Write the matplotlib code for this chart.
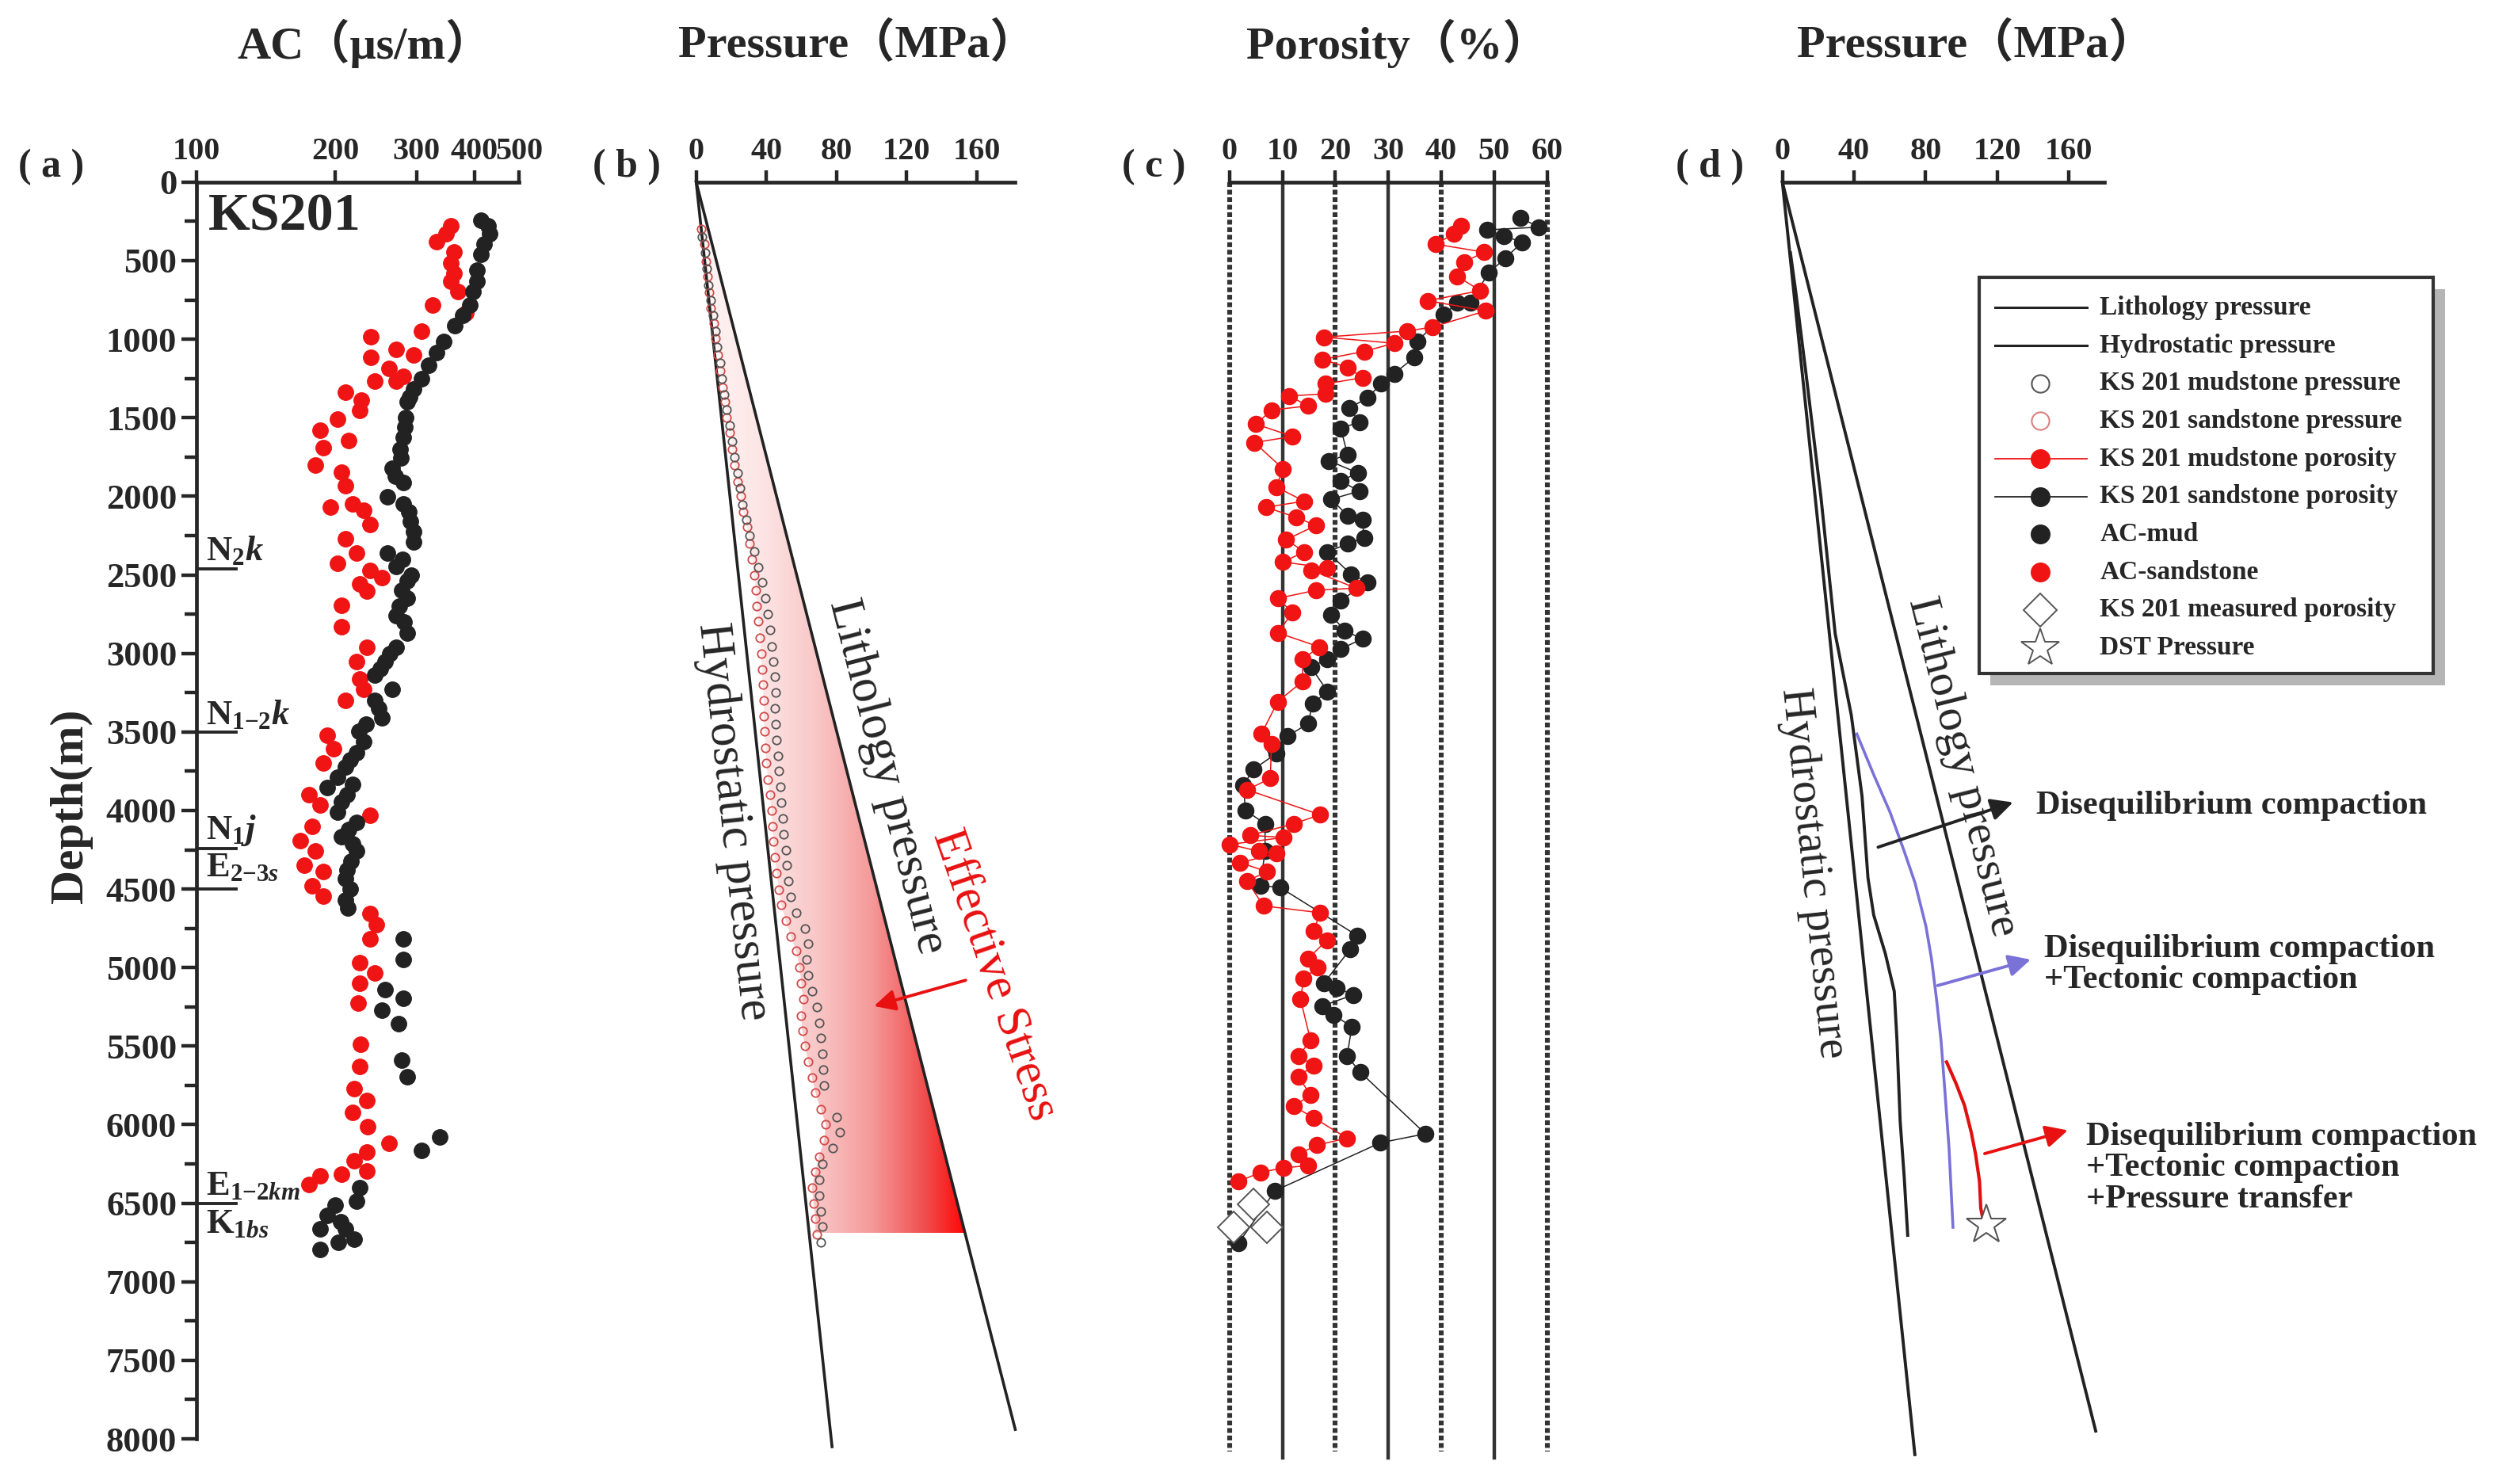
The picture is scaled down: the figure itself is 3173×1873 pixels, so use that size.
import math

import matplotlib

matplotlib.use("Agg")
import matplotlib.pyplot as plt
import numpy as np
from matplotlib.colors import LinearSegmentedColormap
from matplotlib.patches import Polygon, Rectangle
from matplotlib.ticker import MultipleLocator, NullLocator

plt.rcParams["font.family"] = ["Liberation Serif", "Noto Sans CJK SC"]
plt.rcParams["font.weight"] = "bold"
plt.rcParams["mathtext.fontset"] = "custom"
plt.rcParams["mathtext.rm"] = "Liberation Serif:bold"
plt.rcParams["mathtext.it"] = "Liberation Serif:italic:bold"
plt.rcParams["mathtext.bf"] = "Liberation Serif:bold"

# ---------------- (a) AC log ----------------
ac_mud_val = [413, 428, 432, 420, 413, 405, 405, 398, 391, 377, 363, 344, 331, 319, 308, 296, 290,
              286, 284, 283, 281, 276, 277, 266, 270, 281, 259, 281, 289, 291, 296, 296, 259, 280,
              271, 292, 286, 279, 286, 275, 271, 282, 286, 271, 262, 256, 250, 243, 266, 243, 248,
              252, 233, 225, 230, 222, 215, 210, 202, 218, 192, 212, 206, 202, 222, 214, 206, 218,
              222, 216, 212, 210, 215, 210, 213, 281, 281, 256, 281, 252, 274, 278, 286, 337, 308,
              226, 222, 200, 192, 205, 185, 210, 220, 203, 185]
ac_mud_depth = [244, 277, 328, 395, 462, 563, 630, 697, 781, 849, 916, 1017, 1084, 1168, 1252, 1319,
                1370, 1400, 1500, 1560, 1623, 1700, 1757, 1824, 1870, 1913, 2002, 2047, 2100, 2158,
                2225, 2292, 2359, 2400, 2449, 2500, 2538, 2600, 2650, 2700, 2761, 2800, 2873, 2962,
                3000, 3051, 3100, 3140, 3230, 3297, 3350, 3408, 3450, 3498, 3560, 3632, 3680, 3721,
                3788, 3833, 3855, 3900, 3944, 4011, 4078, 4120, 4167, 4210, 4257, 4324, 4380, 4435,
                4500, 4569, 4620, 4815, 4946, 5141, 5196, 5272, 5359, 5587, 5696, 6076, 6163, 6402,
                6489, 6511, 6576, 6620, 6663, 6663, 6728, 6750, 6794]
ac_sand_val = [356, 348, 331, 362, 356, 362, 356, 369, 325, 384, 308, 239, 271, 296, 239, 261, 281,
               243, 271, 210, 228, 226, 202, 185, 214, 188, 181, 206, 210, 218, 195, 230, 238, 210,
               222, 202, 238, 252, 226, 234, 206, 206, 234, 222, 226, 230, 210, 192, 198, 188, 175,
               185, 238, 178, 168, 181, 171, 188, 178, 188, 238, 245, 238, 226, 243, 226, 224, 227,
               226, 220, 234, 218, 235, 261, 234, 220, 234, 206, 185, 175]
ac_sand_depth = [277, 328, 378, 445, 513, 580, 630, 697, 781, 832, 950, 983, 1067, 1101, 1118, 1185,
                 1235, 1269, 1269, 1336, 1390, 1455, 1511, 1578, 1645, 1690, 1801, 1846, 1935, 2047,
                 2069, 2091, 2181, 2270, 2359, 2426, 2471, 2516, 2560, 2605, 2694, 2828, 2962, 3051,
                 3163, 3230, 3297, 3520, 3609, 3698, 3899, 3966, 4033, 4100, 4190, 4257, 4346, 4391,
                 4480, 4547, 4658, 4725, 4815, 4967, 5033, 5098, 5228, 5489, 5630, 5772, 5848, 5924,
                 6011, 6120, 6174, 6228, 6293, 6315, 6326, 6381]
formation_bounds = [2460, 3500, 4240, 4500, 6500]
formation_labels = [r"$\mathrm{N}_{2}\mathit{k}$", r"$\mathrm{N}_{1\mathrm{-}2}\mathit{k}$",
                    r"$\mathrm{N}_{1}\mathit{j}$", r"$\mathrm{E}_{2\mathrm{-}3\mathit{s}}$",
                    r"$\mathrm{E}_{1\mathrm{-}2\mathit{km}}$", r"$\mathrm{K}_{1\mathit{bs}}$"]
formation_label_depths = [2450, 3495, 4235, 4265, 6490, 6530]

# ---------------- (b) pressure ----------------
b_hydro_p = [0, 77.5]
b_hydro_depth = [0, 8050]
b_litho_p = [0, 182]
b_litho_depth = [0, 7940]
b_sand_p = [3.0, 4.5, 5.5, 6.5, 7.5, 8.5, 10.0, 11.0, 12.5, 13.5, 15.0, 16.5, 17.5, 19.0, 20.5, 22.0,
            23.5, 25.5, 27.0, 29.0, 30.5, 32.0, 33.0, 34.0, 34.5, 35.5, 36.5, 37.0, 37.5, 38.0, 38.5,
            38.5, 39.0, 39.5, 40.0, 41.0, 42.0, 43.0, 43.5, 44.0, 45.0, 46.0, 47.0, 48.5, 51.0, 54.0,
            57.0, 59.0, 60.0, 61.0, 60.0, 60.5, 62.0, 64.0, 66.0, 68.0, 71.0, 74.0, 73.0, 70.0, 68.0,
            66.0, 67.0, 68.0, 69.0]
b_sand_depth = [300, 395, 505, 600, 700, 805, 900, 995, 1100, 1200, 1305, 1400, 1500, 1595, 1700, 1800,
                1905, 2000, 2100, 2195, 2300, 2400, 2505, 2600, 2700, 2795, 2900, 3000, 3105, 3200,
                3300, 3400, 3495, 3600, 3700, 3805, 3900, 4000, 4100, 4195, 4300, 4400, 4505, 4600,
                4700, 4800, 4895, 5000, 5100, 5200, 5305, 5400, 5500, 5600, 5700, 5795, 5900, 6000,
                6100, 6205, 6300, 6400, 6500, 6600, 6700]
b_mud_p = [3.5, 5.0, 6.0, 7.0, 8.5, 9.5, 11.0, 12.0, 13.5, 14.5, 16.0, 17.5, 19.0, 20.5, 22.0, 23.5,
           25.0, 26.5, 28.5, 30.5, 33.0, 35.5, 37.5, 39.5, 41.0, 42.0, 43.0, 44.0, 45.0, 45.5, 45.0,
           45.5, 46.0, 46.5, 47.0, 48.0, 48.5, 49.5, 50.0, 51.0, 51.5, 52.5, 54.0, 57.0, 62.0, 64.0,
           63.0, 64.0, 66.0, 69.0, 70.0, 71.0, 72.0, 72.5, 73.0, 80.0, 82.0, 78.0, 72.0, 70.0, 70.0,
           71.0, 72.0, 71.0]
b_mud_depth = [350, 450, 550, 655, 750, 850, 950, 1050, 1150, 1250, 1355, 1450, 1550, 1650, 1750, 1850,
               1950, 2055, 2150, 2250, 2350, 2450, 2550, 2650, 2750, 2850, 2955, 3050, 3150, 3250,
               3350, 3450, 3550, 3650, 3750, 3850, 3950, 4050, 4150, 4250, 4350, 4450, 4550, 4650,
               4750, 4850, 4950, 5050, 5150, 5250, 5350, 5450, 5550, 5650, 5750, 5950, 6050, 6150,
               6250, 6350, 6450, 6550, 6650, 6750]
b_stress_bottom = 6690

# ---------------- (c) porosity ----------------
c_sand_por = [55.0, 58.4, 48.7, 51.8, 55.3, 52.1, 49.0, 45.5, 43.0, 40.5, 35.5, 34.9, 31.1, 28.6, 26.1,
              22.6, 24.5, 21.0, 22.3, 18.8, 24.2, 21.0, 24.5, 19.2, 22.3, 25.1, 25.4, 22.3, 18.5, 22.9,
              26.1, 21.0, 19.2, 21.7, 25.1, 21.0, 18.5, 15.4, 18.5, 15.7, 14.8, 11.0, 8.5, 8.9, 4.5,
              2.6, 3.0, 6.7, 6.7, 5.8, 9.6, 24.1, 22.8, 17.8, 20.3, 23.4, 17.5, 19.7, 23.1, 22.2, 24.7,
              37.0, 28.5, 8.6, 1.7]
c_sand_depth = [227, 287, 304, 343, 382, 485, 575, 768, 770, 845, 1013, 1116, 1219, 1284, 1374, 1438,
                1529, 1567, 1736, 1774, 1851, 1903, 1967, 2019, 2122, 2147, 2264, 2302, 2354, 2495,
                2547, 2663, 2753, 2856, 2907, 2972, 3036, 3088, 3242, 3320, 3448, 3526, 3603, 3636,
                3738, 3839, 3999, 4085, 4259, 4477, 4491, 4796, 4883, 5100, 5129, 5173, 5245, 5303,
                5376, 5564, 5666, 6058, 6115, 6420, 6754]
c_mud_por = [43.7, 42.4, 38.9, 48.1, 44.3, 43.0, 47.4, 37.4, 48.4, 38.3, 33.6, 17.9, 31.1, 25.4, 17.6,
             22.3, 25.1, 18.2, 18.2, 11.3, 14.8, 7.9, 5.0, 11.9, 4.7, 10.1, 8.8, 14.1, 6.9, 12.6, 16.3,
             10.7, 14.1, 10.1, 18.5, 15.4, 23.9, 16.3, 9.1, 11.9, 9.1, 17.0, 13.8, 13.8, 9.1, 6.0, 7.9,
             7.7, 3.3, 17.1, 12.1, 3.9, 10.2, 0.0, 5.5, 8.9, 2.0, 7.1, 3.3, 6.4, 17.1, 15.9, 18.4, 14.9,
             16.6, 14.0, 13.4, 15.3, 13.0, 15.9, 13.0, 15.3, 12.1, 15.9, 22.2, 16.5, 13.0, 14.9, 10.2,
             5.8, 1.7]
c_mud_depth = [279, 330, 395, 446, 510, 600, 691, 755, 820, 923, 948, 987, 1026, 1078, 1129, 1180, 1245,
               1284, 1348, 1361, 1425, 1451, 1541, 1619, 1658, 1825, 1941, 2031, 2070, 2134, 2186, 2276,
               2354, 2418, 2457, 2470, 2585, 2598, 2650, 2740, 2869, 2959, 3036, 3178, 3307, 3513,
               3577, 3796, 3868, 4027, 4085, 4158, 4172, 4216, 4259, 4274, 4332, 4390, 4448, 4607,
               4651, 4767, 4825, 4941, 4999, 5071, 5202, 5463, 5564, 5622, 5695, 5811, 5883, 5956,
               6086, 6130, 6188, 6260, 6275, 6304, 6362]
c_measured_por = [4.5, 7.1, 0.8]
c_measured_depth = [6507, 6652, 6652]
c_solid_lines = [10, 30, 50]
c_dotted_lines = [0, 20, 40, 60]

# ---------------- (d) pressure model ----------------
d_hydro_p = [0, 74]
d_hydro_depth = [0, 8100]
d_litho_p = [0, 175]
d_litho_depth = [0, 7950]
d_trend_p = [4.5, 7.5, 13.0, 21.5, 29.5, 38.5, 44.5, 47.8, 51.0, 57.5, 62.5, 64.0, 65.8, 68.0, 70.0]
d_trend_depth = [450, 700, 1200, 2000, 2875, 3393, 3910, 4428, 4665, 4911, 5152, 5462, 5980, 6325, 6704]
d_blue_p = [41.6, 51.0, 60.2, 67.9, 74.1, 80.2, 83.3, 86.3, 88.6, 90.9, 93.1, 94.6, 95.3]
d_blue_depth = [3513, 3772, 4013, 4255, 4461, 4738, 4945, 5221, 5462, 5807, 6153, 6497, 6653]
d_red_p = [91.7, 97.0, 101.7, 105.5, 107.9, 110.1, 110.8, 112.0]
d_red_depth = [5601, 5738, 5877, 6049, 6188, 6360, 6532, 6600]
d_dst_p = [114]
d_dst_depth = [6640]
d_arrow_tail = [(52.3, 4238), (85.6, 5118), (111.8, 6188)]
d_arrow_head = [(130.0, 3944), (139.9, 4945), (160.6, 6032)]
d_arrow_text = ["Disequilibrium compaction",
                "Disequilibrium compaction\n+Tectonic compaction",
                "Disequilibrium compaction\n+Tectonic compaction\n+Pressure transfer"]
d_text_pos = [(142, 3969), (146, 4980), (169.5, 6277)]

legend_labels = ["Lithology pressure", "Hydrostatic pressure", "KS 201 mudstone pressure",
                 "KS 201 sandstone pressure", "KS 201 mudstone porosity", "KS 201 sandstone porosity",
                 "AC-mud", "AC-sandstone", "KS 201 measured porosity", "DST Pressure"]

RED = "#f01414"
BLK = "#222222"
AXC = "#262626"
BLUE = "#7b72d8"

W, H = 1560.0, 921.0  # reference layout grid


def fx(x):
    return x / W


def fy(y):
    return 1 - y / H


fig = plt.figure(figsize=(31.73, 18.73), dpi=100)
ybot, yh = fy(893), 780 / H


def top_axis(ax, xmax, ticks):
    ax.set_xlim(0, xmax)
    ax.set_ylim(8000, 0)
    for s in ("left", "right", "bottom"):
        ax.spines[s].set_visible(False)
    ax.spines["top"].set_linewidth(3.4)
    ax.spines["top"].set_color(AXC)
    ax.xaxis.tick_top()
    ax.set_xticks(ticks)
    ax.tick_params(axis="x", length=11, width=3.2, pad=3, labelsize=29, colors=AXC)
    ax.set_yticks([])
    ax.patch.set_alpha(0)


def slope_angle(ax, p, d):
    x0, y0 = ax.transData.transform((0, 0))
    x1, y1 = ax.transData.transform((p, d))
    return math.degrees(math.atan2(y1 - y0, x1 - x0))


# ---------------- panel a ----------------
ax_a = fig.add_axes([fx(122), ybot, fx(322) - fx(122), yh])
ax_a.set_xscale("log")
ax_a.set_xlim(100, 500)
ax_a.set_ylim(8000, 0)
for s in ("right", "bottom"):
    ax_a.spines[s].set_visible(False)
for s in ("top", "left"):
    ax_a.spines[s].set_linewidth(3.4)
    ax_a.spines[s].set_color(AXC)
ax_a.xaxis.tick_top()
ticks_a = [100, 200, 300, 400, 500]
ax_a.set_xticks(ticks_a, labels=[str(t) for t in ticks_a])
ax_a.xaxis.set_minor_locator(NullLocator())
ax_a.tick_params(axis="x", length=11, width=3.2, pad=3, labelsize=29, colors=AXC)
ax_a.set_yticks(range(0, 8001, 500))
ax_a.yaxis.set_minor_locator(MultipleLocator(250))
ax_a.tick_params(axis="y", which="major", length=14, width=3.2, pad=4, labelsize=32, colors=AXC)
ax_a.tick_params(axis="y", which="minor", length=11, width=3.2, colors=AXC)
ax_a.patch.set_alpha(0)

ax_a.plot(ac_sand_val, ac_sand_depth, "o", ms=14, color=RED, mec=RED, zorder=3)
ax_a.plot(ac_mud_val, ac_mud_depth, "o", ms=14, color=BLK, mec=BLK, zorder=4)
for d in formation_bounds:
    ax_a.plot([100, 122], [d, d], color=AXC, lw=2.8, zorder=2)
vas = ["bottom", "bottom", "bottom", "top", "bottom", "top"]
for lab, d, va in zip(formation_labels, formation_label_depths, vas):
    ax_a.text(105, d, lab, fontsize=32, va=va, ha="left", color=AXC, zorder=5)
ax_a.text(106, 70, "KS201", fontsize=49, va="top", ha="left", color=AXC)
fig.text(fx(44), fy(500), "Depth(m)", rotation=90, ha="center", va="center", fontsize=43, color=AXC)

# ---------------- panel b ----------------
ax_b = fig.add_axes([fx(432), ybot, fx(630) - fx(432), yh])
top_axis(ax_b, 182, [0, 40, 80, 120, 160])
ax_b.plot(b_hydro_p, b_hydro_depth, color=BLK, lw=2.6, clip_on=False, zorder=3)
ax_b.plot(b_litho_p, b_litho_depth, color=BLK, lw=2.6, clip_on=False, zorder=3)

litho_bottom = np.interp(b_stress_bottom, b_litho_depth, b_litho_p)
left_edge = [(p, d) for p, d in zip(b_sand_p, b_sand_depth) if d <= b_stress_bottom]
litho_top = np.interp(left_edge[0][1], b_litho_depth, b_litho_p)
verts = left_edge + [(left_edge[-1][0], b_stress_bottom), (litho_bottom, b_stress_bottom),
                     (litho_top, left_edge[0][1])]
clip = Polygon(verts, closed=True, facecolor="none", edgecolor="none", transform=ax_b.transData)
ax_b.add_patch(clip)
cmap = LinearSegmentedColormap.from_list(
    "es", [(0, "#fff7f7"), (0.25, "#fde4e4"), (0.45, "#f9c6c6"), (0.65, "#f59a9a"),
           (0.85, "#f04e4e"), (1, "#ff0606")])
grad = np.linspace(0, 1, 256)[None, :]
im = ax_b.imshow(grad, extent=(0, litho_bottom, b_stress_bottom, 0), cmap=cmap, aspect="auto",
                 interpolation="bicubic", zorder=1)
im.set_clip_path(clip)
ax_b.set_xlim(0, 182)
ax_b.set_ylim(8000, 0)

ax_b.plot(b_sand_p, b_sand_depth, "o", ms=7.5, mfc="none", mec="#d24a4a", mew=1.3, zorder=4)
ax_b.plot(b_mud_p, b_mud_depth, "o", ms=7.5, mfc="none", mec="#555555", mew=1.3, zorder=4)

ang_h = slope_angle(ax_b, b_hydro_p[1], b_hydro_depth[1])
ang_l = slope_angle(ax_b, b_litho_p[1], b_litho_depth[1])
ax_b.text(21, 4070, "Hydrostatic pressure", rotation=ang_h, rotation_mode="anchor", ha="center",
          va="center", fontsize=44, fontweight="normal", color=AXC)
ax_b.text(108.5, 3785, "Lithology pressure", rotation=ang_l, rotation_mode="anchor", ha="center",
          va="center", fontsize=44, fontweight="normal", color=AXC)
ax_b.text(170, 5046, "Effective Stress", rotation=-71, rotation_mode="anchor", ha="center",
          va="center", fontsize=44, fontweight="normal", color="#e81010")
ax_b.annotate("", xy=(100.2, 5249), xytext=(154.9, 5077),
              arrowprops=dict(arrowstyle="-|>", color="#e81010", lw=2.8, mutation_scale=40))

# ---------------- panel c ----------------
ax_c = fig.add_axes([fx(763), ybot, fx(960) - fx(763), yh])
top_axis(ax_c, 60, [0, 10, 20, 30, 40, 50, 60])
for x in c_solid_lines:
    ax_c.plot([x, x], [0, 8120], color="#333333", lw=3.2, clip_on=False, zorder=1)
for x in c_dotted_lines:
    ax_c.plot([x, x], [0, 8080], color="#333333", lw=4.4, ls=(0, (1.0, 0.55)), clip_on=False, zorder=1)
o = np.argsort(c_sand_depth)
ax_c.plot(np.array(c_sand_por)[o], np.array(c_sand_depth)[o], "-o", color=BLK, lw=1.1, ms=14.5,
          mec=BLK, clip_on=False, zorder=3)
o = np.argsort(c_mud_depth)
ax_c.plot(np.array(c_mud_por)[o], np.array(c_mud_depth)[o], "-o", color=RED, lw=1.1, ms=14.5,
          mec=RED, clip_on=False, zorder=4)
ax_c.plot(c_measured_por, c_measured_depth, "D", ms=20, mfc="white", mec="#555555", mew=1.4,
          clip_on=False, zorder=5)

# ---------------- panel d ----------------
ax_d = fig.add_axes([fx(1106), ybot, fx(1306) - fx(1106), yh])
top_axis(ax_d, 180, [0, 40, 80, 120, 160])
ax_d.plot(d_hydro_p, d_hydro_depth, color=BLK, lw=2.8, clip_on=False, zorder=3)
ax_d.plot(d_litho_p, d_litho_depth, color=BLK, lw=2.8, clip_on=False, zorder=3)
ax_d.plot(d_trend_p, d_trend_depth, color=BLK, lw=2.8, zorder=3)
ax_d.plot(d_blue_p, d_blue_depth, color=BLUE, lw=2.6, zorder=3)
ax_d.plot(d_red_p, d_red_depth, color="#e01010", lw=3.0, zorder=3)
ax_d.plot(d_dst_p, d_dst_depth, "*", ms=38, mfc="white", mec="#555555", mew=1.5, zorder=5)

ang_h = slope_angle(ax_d, d_hydro_p[1], d_hydro_depth[1])
ang_l = slope_angle(ax_d, d_litho_p[1], d_litho_depth[1])
ax_d.text(17, 4400, "Hydrostatic pressure", rotation=ang_h, rotation_mode="anchor", ha="center",
          va="center", fontsize=41, fontweight="normal", color=AXC)
ax_d.text(100.5, 3720, "Lithology pressure", rotation=ang_l, rotation_mode="anchor", ha="center",
          va="center", fontsize=42, fontweight="normal", color=AXC)

arrow_colors = [BLK, BLUE, "#e81010"]
for tail, head, col in zip(d_arrow_tail, d_arrow_head, arrow_colors):
    ax_d.annotate("", xy=head, xytext=tail, annotation_clip=False,
                  arrowprops=dict(arrowstyle="-|>", color=col, lw=2.8, mutation_scale=42))
for txt, (px, pd) in zip(d_arrow_text, d_text_pos):
    ax_d.text(px, pd, txt, fontsize=30.5, ha="left", va="center", linespacing=1.05, color=AXC,
              clip_on=False)

# ---------------- legend ----------------
lx0, ly0, lx1, ly1 = 1228, 172, 1510, 418
lg = fig.add_axes([fx(lx0), fy(ly1), fx(lx1) - fx(lx0), fy(ly0) - fy(ly1)])
lg.set_xlim(0, 1)
lg.set_ylim(0, 1)
lg.axis("off")
lg.add_patch(Rectangle((0.025, -0.03), 1, 1, facecolor="#b5b5b5", edgecolor="none",
                       clip_on=False, zorder=0))
lg.add_patch(Rectangle((0, 0), 1, 1, facecolor="white", edgecolor="#333333", lw=3,
                       clip_on=False, zorder=1))
rows = np.linspace(0.923, 0.065, len(legend_labels))
mx = 0.135
for i, (lab, yy) in enumerate(zip(legend_labels, rows)):
    if i < 2:
        lg.plot([0.035, 0.238], [yy, yy], color=BLK, lw=2.2, zorder=2)
    elif i == 2:
        lg.plot(mx, yy, "o", ms=16, mfc="none", mec="#555555", mew=1.5, zorder=2)
    elif i == 3:
        lg.plot(mx, yy, "o", ms=16, mfc="none", mec="#d88080", mew=1.5, zorder=2)
    elif i == 4:
        lg.plot([0.035, 0.238], [yy, yy], color=RED, lw=1.3, zorder=2)
        lg.plot(mx, yy, "o", ms=17, color=RED, zorder=3)
    elif i == 5:
        lg.plot([0.035, 0.238], [yy, yy], color=BLK, lw=1.3, zorder=2)
        lg.plot(mx, yy, "o", ms=17, color=BLK, zorder=3)
    elif i == 6:
        lg.plot(mx, yy, "o", ms=17, color=BLK, zorder=3)
    elif i == 7:
        lg.plot(mx, yy, "o", ms=17, color=RED, zorder=3)
    elif i == 8:
        lg.plot(mx, yy, "D", ms=21, mfc="white", mec="#555555", mew=1.4, zorder=3)
    else:
        lg.plot(mx, yy, "*", ms=36, mfc="white", mec="#555555", mew=1.4, zorder=3)
    lg.text(0.266, yy, lab, fontsize=24, va="center", ha="left", color=AXC, zorder=4)

# ---------------- titles and panel labels ----------------
titles = ["AC（μs/m）", "Pressure（MPa）", "Porosity（%）", "Pressure（MPa）"]
title_x = [226, 532, 867, 1226]
for t, x in zip(titles, title_x):
    fig.text(fx(x), fy(27), t, ha="center", va="center", fontsize=42, color=AXC)
panel_labels = ["( a )", "( b )", "( c )", "( d )"]
panel_x = [32, 389, 716, 1061]
for t, x in zip(panel_labels, panel_x):
    fig.text(fx(x), fy(104), t, ha="center", va="center", fontsize=36, color=AXC)

fig.savefig("out.png", dpi=100)
